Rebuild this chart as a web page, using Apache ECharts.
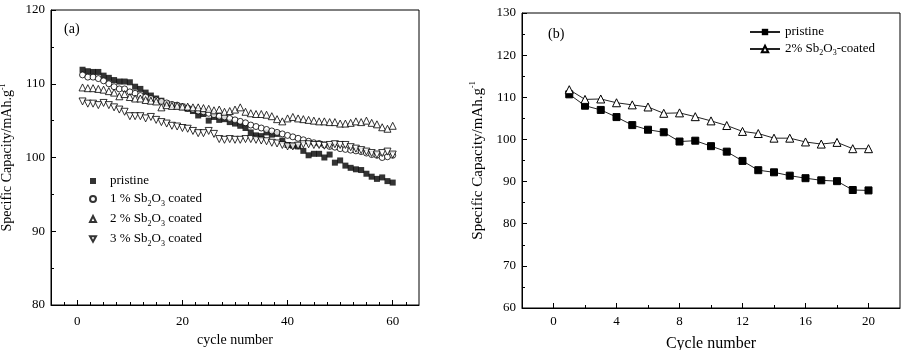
<!DOCTYPE html>
<html>
<head>
<meta charset="utf-8">
<script src="https://cdn.jsdelivr.net/npm/echarts@6/dist/echarts.min.js"></script>
<style>
html, body { margin: 0; padding: 0; background: #fff; }
#chartA { position: absolute; left: 0; top: 0; width: 454px; height: 350px; }
#chartB { position: absolute; left: 454px; top: 0; width: 454px; height: 350px; }
</style>
</head>
<body>
<div id="chartA"></div>
<div id="chartB"></div>
<script>
// ---- panel (a): 60 cycles, four samples ----
var namesA = ['pristine', '1 % Sb2O3 coated', '2 % Sb2O3 coated', '3 % Sb2O3 coated'];
var pristineA = [111.9, 111.7, 111.6, 111.6, 111.1, 110.8, 110.5, 110.3, 110.3, 110.2,
                 109.6, 109.3, 108.8, 108.4, 108.0, 107.7, 107.3, 107.1, 107.0, 106.9,
                 106.6, 106.3, 105.7, 105.9, 105.0, 105.5, 105.1, 105.2, 104.8, 104.6,
                 104.3, 104.0, 103.4, 103.0, 102.9, 103.4, 103.1, 103.2, 102.3, 101.7,
                 101.6, 101.5, 100.9, 100.3, 100.5, 100.5, 100.0, 100.4, 99.3, 99.6,
                 98.9, 98.6, 98.4, 98.3, 97.8, 97.4, 97.1, 97.3, 96.8, 96.6];
var coated1A = [111.2, 110.9, 110.9, 110.7, 110.4, 110.0, 109.6, 109.3, 109.3, 108.9,
                108.7, 108.4, 108.2, 108.0, 107.8, 107.6, 107.4, 107.2, 107.1, 106.9,
                106.7, 106.5, 106.3, 106.2, 106.0, 105.8, 105.6, 105.5, 105.3, 105.1,
                104.9, 104.7, 104.4, 104.2, 104.0, 103.8, 103.6, 103.4, 103.2, 103.0,
                102.8, 102.6, 102.4, 102.2, 102.0, 101.9, 101.7, 101.5, 101.4, 101.2,
                101.1, 101.0, 100.9, 100.8, 100.6, 100.4, 100.3, 100.0, 100.1, 100.3];
var coated2A = [109.5, 109.4, 109.4, 109.3, 109.2, 109.0, 108.8, 108.3, 108.6, 108.2,
                108.0, 108.0, 107.8, 107.7, 107.6, 106.8, 107.1, 107.0, 107.0, 106.9,
                106.9, 106.8, 106.8, 106.7, 106.6, 106.4, 106.5, 106.2, 106.3, 106.5,
                106.8, 106.2, 106.0, 105.9, 105.9, 105.8, 105.6, 105.2, 104.9, 105.3,
                105.5, 105.3, 105.2, 105.1, 105.0, 104.9, 104.9, 104.8, 104.8, 104.6,
                104.6, 104.7, 104.9, 104.8, 105.0, 104.7, 104.5, 104.1, 103.9, 104.3];
var coated3A = [107.6, 107.3, 107.3, 107.1, 107.4, 107.1, 106.8, 106.5, 106.2, 105.6,
                105.6, 105.6, 105.3, 105.5, 105.1, 104.8, 104.6, 104.3, 104.2, 104.0,
                103.9, 103.6, 103.3, 103.3, 103.6, 103.2, 102.5, 102.4, 102.5, 102.4,
                102.4, 102.5, 102.5, 102.4, 102.3, 102.2, 102.0, 101.9, 101.7, 101.5,
                101.5, 101.6, 101.8, 101.8, 101.7, 101.7, 101.6, 101.7, 101.8, 101.7,
                101.7, 101.4, 101.2, 101.0, 100.8, 100.6, 100.4, 100.6, 100.8, 100.4];
var xTicksA = [0, 20, 40, 60];
var yTicksA = [80, 90, 100, 110, 120];

// ---- panel (b): 20 cycles, two samples ----
var namesB = ['pristine', '2% Sb2O3-coated'];
var cyclesB = [1, 2, 3, 4, 5, 6, 7, 8, 9, 10, 11, 12, 13, 14, 15, 16, 17, 18, 19, 20];
var pristineB = [110.7, 108.0, 107.0, 105.3, 103.4, 102.3, 101.7, 99.5, 99.7, 98.4,
                 97.1, 94.9, 92.7, 92.2, 91.4, 90.8, 90.3, 90.1, 88.0, 87.9];
var coated2B = [111.8, 109.5, 109.6, 108.7, 108.2, 107.7, 106.2, 106.3, 105.4, 104.4,
                103.3, 101.9, 101.4, 100.3, 100.3, 99.4, 98.9, 99.3, 97.8, 97.8];
var xTicksB = [0, 4, 8, 12, 16, 20];
var yTicksB = [60, 70, 80, 90, 100, 110, 120, 130];

var FONT = 'Liberation Serif';
var DOWN_TRI = 'path://M0,0 L10,0 L5,9 Z';

function pairs(xs, ys) {
    var out = [];
    for (var i = 0; i < ys.length; i++) out.push([xs[i], ys[i]]);
    return out;
}
function steps(from, to, step) {
    var out = [];
    for (var v = from; v <= to + 1e-9; v += step) out.push(v);
    return out;
}

// rich text styles for sub/superscripts
var richBase = {
    t: { fontFamily: FONT, fontSize: 13, color: '#000', lineHeight: 18 },
    s: { fontFamily: FONT, fontSize: 8, color: '#000', lineHeight: 8, verticalAlign: 'bottom' },
    u: { fontFamily: FONT, fontSize: 8, color: '#000', lineHeight: 8, verticalAlign: 'top' }
};
function sbLabel(name) {
    // turns "Sb2O3" into subscripted rich text
    if (name.indexOf('Sb2O3') < 0) return name;
    var parts = name.split('Sb2O3');
    return '{t|' + parts[0] + 'Sb}{s|2}{t|O}{s|3}{t|' + parts[1] + '}';
}

var cyclesA = [];
for (var c = 1; c <= 60; c++) cyclesA.push(c);

// 左图
var chartA = echarts.init(document.getElementById('chartA'));
var optionA = {
    animation: false,
    graphic: [{
        type: 'text', left: 64, top: 22,
        style: { text: '(a)', font: '14px ' + FONT, fill: '#000' }
    }],
    grid: { left: 51, right: 35, top: 10, bottom: 45, outerBoundsMode: 'none',
            show: true, borderColor: '#000', borderWidth: 1 },
    legend: {
        orient: 'vertical', left: 84, top: 169, itemGap: 2,
        itemWidth: 6, itemHeight: 6,
        data: [namesA[0], namesA[1], namesA[2], { name: namesA[3], icon: DOWN_TRI }],
        formatter: sbLabel,
        textStyle: { fontFamily: FONT, fontSize: 13, color: '#000', lineHeight: 14,
                     padding: [0, 0, 0, 9], rich: richBase }
    },
    xAxis: [{
        type: 'value', min: -5, max: 65,
        name: 'cycle number', nameLocation: 'middle', nameGap: 20,
        nameTextStyle: { fontFamily: FONT, fontSize: 14, color: '#000' },
        splitLine: { show: false },
        axisLine: { onZero: false, lineStyle: { color: '#000' } },
        axisTick: { inside: true, length: 5, customValues: xTicksA, lineStyle: { color: '#000' } },
        axisLabel: { customValues: xTicksA, fontFamily: FONT, fontSize: 13, color: '#000', margin: 10 }
    }, {
        // minor ticks
        type: 'value', min: -5, max: 65, position: 'bottom',
        splitLine: { show: false }, axisLine: { show: false, onZero: false }, axisLabel: { show: false },
        axisTick: { inside: true, length: 3, customValues: steps(-2.5, 62.5, 2.5), lineStyle: { color: '#000' } }
    }],
    yAxis: {
        type: 'value', min: 80, max: 120, interval: 10,
        name: '{t|Specific Capacity/mAh.g}{u|-1}', nameLocation: 'middle', nameGap: 33, nameRotate: 90,
        nameTextStyle: { rich: {
            t: { fontFamily: FONT, fontSize: 14, color: '#000', lineHeight: 18 },
            u: { fontFamily: FONT, fontSize: 8, color: '#000', lineHeight: 8, verticalAlign: 'top' }
        } },
        splitLine: { show: false },
        axisLine: { show: true, onZero: false, lineStyle: { color: '#000' } },
        axisTick: { inside: true, length: 5, lineStyle: { color: '#000' } },
        minorTick: { show: true, splitNumber: 2, length: 3, lineStyle: { color: '#000' } },
        axisLabel: { fontFamily: FONT, fontSize: 13, color: '#000', margin: 6 }
    },
    series: [
        { name: namesA[0], type: 'scatter', symbol: 'rect', symbolSize: 6,
          itemStyle: { color: '#000' }, data: pairs(cyclesA, pristineA) },
        { name: namesA[1], type: 'scatter', symbol: 'circle', symbolSize: 6,
          itemStyle: { color: '#fff', borderColor: '#000', borderWidth: 1 }, data: pairs(cyclesA, coated1A) },
        { name: namesA[2], type: 'scatter', symbol: 'triangle', symbolSize: 7,
          itemStyle: { color: '#fff', borderColor: '#000', borderWidth: 1 }, data: pairs(cyclesA, coated2A) },
        { name: namesA[3], type: 'scatter', symbol: 'triangle', symbolSize: 7, symbolRotate: 180,
          itemStyle: { color: '#fff', borderColor: '#000', borderWidth: 1 }, data: pairs(cyclesA, coated3A) }
    ]
};
chartA.setOption(optionA);

// 右图
var chartB = echarts.init(document.getElementById('chartB'));
var optionB = {
    animation: false,
    graphic: [{
        type: 'text', left: 94, top: 27,
        style: { text: '(b)', font: '14px ' + FONT, fill: '#000' }
    }],
    grid: { left: 68, right: 8, top: 13, bottom: 42, outerBoundsMode: 'none',
            show: true, borderColor: '#000', borderWidth: 1 },
    legend: {
        orient: 'vertical', left: 290, top: 20, itemGap: 2,
        itemWidth: 30, itemHeight: 8,
        data: namesB,
        formatter: sbLabel,
        textStyle: { fontFamily: FONT, fontSize: 13, color: '#000', lineHeight: 14, rich: {
            t: { fontFamily: FONT, fontSize: 13, color: '#000', lineHeight: 16 },
            s: { fontFamily: FONT, fontSize: 8, color: '#000', lineHeight: 8, verticalAlign: 'bottom' }
        } }
    },
    xAxis: [{
        type: 'value', min: -2, max: 22,
        name: 'Cycle number', nameLocation: 'middle', nameGap: 28,
        nameTextStyle: { fontFamily: FONT, fontSize: 16, color: '#000' },
        splitLine: { show: false },
        axisLine: { onZero: false, lineStyle: { color: '#000' } },
        axisTick: { inside: true, length: 5, customValues: xTicksB, lineStyle: { color: '#000' } },
        axisLabel: { customValues: xTicksB, fontFamily: FONT, fontSize: 13, color: '#000', margin: 7 }
    }, {
        type: 'value', min: -2, max: 22, position: 'bottom',
        splitLine: { show: false }, axisLine: { show: false, onZero: false }, axisLabel: { show: false },
        axisTick: { inside: true, length: 3, customValues: steps(2, 18, 4), lineStyle: { color: '#000' } }
    }],
    yAxis: {
        type: 'value', min: 60, max: 130, interval: 10,
        name: '{t|Specific Capacity/mAh.g}{u|-1}', nameLocation: 'middle', nameGap: 32, nameRotate: 90,
        nameTextStyle: { rich: {
            t: { fontFamily: FONT, fontSize: 15, color: '#000', lineHeight: 18 },
            u: { fontFamily: FONT, fontSize: 8, color: '#000', lineHeight: 8, verticalAlign: 'top' }
        } },
        splitLine: { show: false },
        axisLine: { show: true, onZero: false, lineStyle: { color: '#000' } },
        axisTick: { inside: true, length: 5, lineStyle: { color: '#000' } },
        minorTick: { show: true, splitNumber: 2, length: 3, lineStyle: { color: '#000' } },
        axisLabel: { fontFamily: FONT, fontSize: 13, color: '#000', margin: 6 }
    },
    series: [
        { name: namesB[0], type: 'line', symbol: 'rect', symbolSize: 7,
          lineStyle: { color: '#222', width: 1 },
          itemStyle: { color: '#000', borderColor: '#000' }, data: pairs(cyclesB, pristineB) },
        { name: namesB[1], type: 'line', symbol: 'triangle', symbolSize: 8,
          lineStyle: { color: '#222', width: 1 },
          itemStyle: { color: '#fff', borderColor: '#000', borderWidth: 1 }, data: pairs(cyclesB, coated2B) }
    ]
};
chartB.setOption(optionB);
</script>
</body>
</html>
